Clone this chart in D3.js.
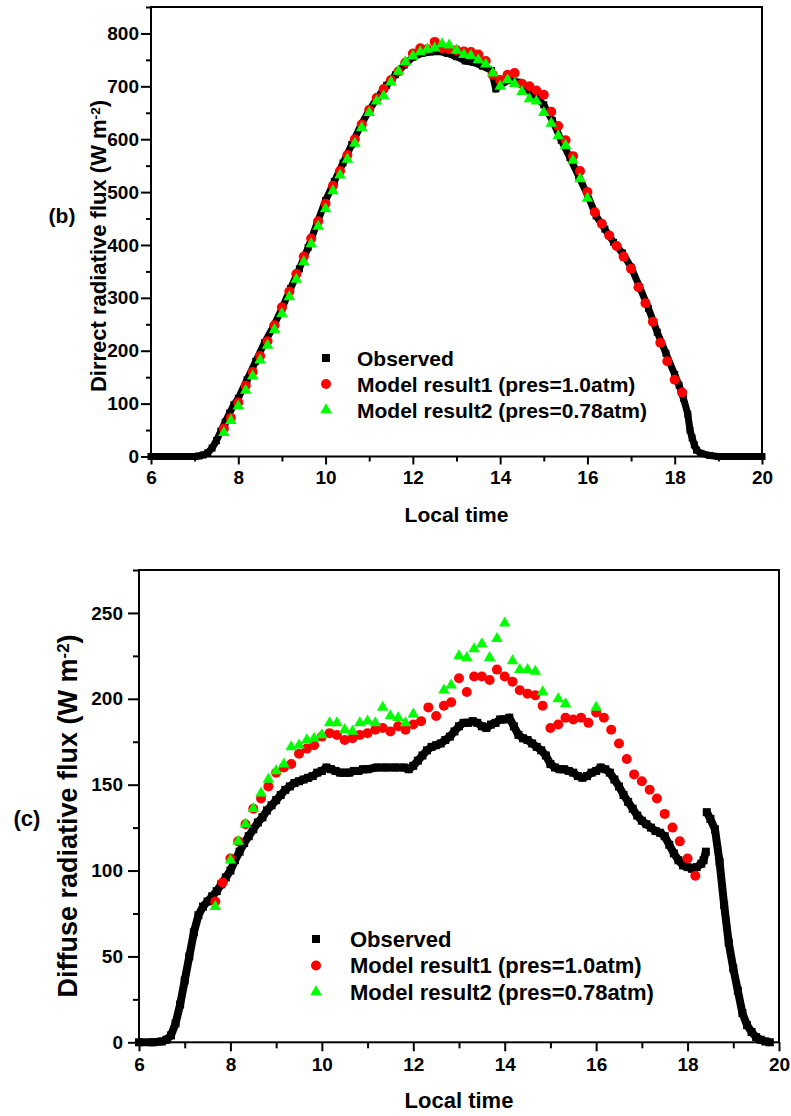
<!DOCTYPE html>
<html>
<head>
<meta charset="utf-8">
<script src="https://cdn.jsdelivr.net/npm/d3@7"></script>
<style>
  body { margin: 0; background: #fff; }
  svg { display: block; font-family: "Liberation Sans", Arial, sans-serif; font-weight: bold; }
</style>
</head>
<body>
<svg id="chart" width="791" height="1116"></svg>
<script>
// ---- panel (b): direct flux ----
const directObsTime = [6.0, 6.5, 7.0, 7.1, 7.2, 7.3, 7.4, 7.5, 7.6, 7.7, 7.8, 7.9, 8.0, 8.2, 8.4, 8.6, 8.8, 9.0, 9.2, 9.4, 9.6, 9.8, 10.0, 10.2, 10.4, 10.6, 10.8, 11.0, 11.2, 11.4, 11.6, 11.8, 12.0, 12.2, 12.4, 12.6, 12.8, 13.0, 13.2, 13.4, 13.6, 13.8, 13.9, 14.0, 14.2, 14.4, 14.6, 14.8, 15.0, 15.2, 15.4, 15.6, 15.8, 16.0, 16.2, 16.4, 16.6, 16.8, 17.0, 17.2, 17.4, 17.6, 17.8, 18.0, 18.1, 18.2, 18.3, 18.35, 18.4, 18.45, 18.5, 18.6, 18.8, 19.0, 19.5, 20.0];
const directObsFlux = [0, 0, 0, 1, 3, 7, 16, 30, 48, 65, 82, 98, 110, 145, 180, 215, 245, 280, 318, 355, 395, 440, 484, 520, 555, 590, 625, 655, 680, 702, 722, 740, 755, 762, 765, 766, 762, 756, 748, 745, 738, 730, 695, 702, 712, 708, 695, 682, 665, 635, 598, 565, 530, 495, 455, 430, 405, 385, 358, 320, 280, 235, 195, 155, 135, 110, 80, 50, 35, 22, 12, 6, 2, 0, 0, 0];

const directM1Time = [7.67, 7.83, 8.0, 8.17, 8.33, 8.5, 8.67, 8.83, 9.0, 9.17, 9.33, 9.5, 9.67, 9.83, 10.0, 10.17, 10.33, 10.5, 10.67, 10.83, 11.0, 11.17, 11.33, 11.5, 11.67, 11.83, 12.0, 12.17, 12.33, 12.5, 12.67, 12.83, 13.0, 13.17, 13.33, 13.5, 13.67, 13.83, 14.0, 14.17, 14.33, 14.5, 14.67, 14.83, 15.0, 15.17, 15.33, 15.5, 15.67, 15.83, 16.0, 16.17, 16.33, 16.5, 16.67, 16.83, 17.0, 17.17, 17.33, 17.5, 17.67, 17.83, 18.0, 18.17];
const directM1Flux = [53, 73, 102, 134, 160, 190, 218, 248, 282, 312, 345, 378, 412, 445, 478, 512, 540, 570, 600, 628, 655, 678, 695, 712, 728, 745, 762, 772, 770, 784, 772, 770, 768, 766, 765, 760, 748, 722, 712, 722, 725, 705, 700, 692, 684, 652, 625, 598, 568, 540, 500, 462, 440, 418, 398, 378, 355, 320, 290, 255, 215, 180, 145, 121];

const directM2Time = [7.67, 7.83, 8.0, 8.17, 8.33, 8.5, 8.67, 8.83, 9.0, 9.17, 9.33, 9.5, 9.67, 9.83, 10.0, 10.17, 10.33, 10.5, 10.67, 10.83, 11.0, 11.17, 11.33, 11.5, 11.67, 11.83, 12.0, 12.17, 12.33, 12.5, 12.67, 12.83, 13.0, 13.17, 13.33, 13.5, 13.67, 13.83, 14.0, 14.17, 14.33, 14.5, 14.67, 14.83, 15.0, 15.17, 15.33, 15.5, 15.67, 15.83, 16.0];
const directM2Flux = [45, 68, 95, 125, 152, 182, 210, 240, 270, 302, 335, 368, 402, 435, 468, 502, 532, 562, 592, 622, 650, 672, 682, 708, 728, 746, 757, 765, 770, 772, 780, 778, 768, 760, 758, 750, 742, 725, 700, 712, 705, 690, 676, 672, 650, 630, 606, 588, 560, 525, 488];

// ---- panel (c): diffuse flux ----
const diffuseObsTime = [6.0, 6.3, 6.5, 6.6, 6.7, 6.8, 6.9, 7.0, 7.1, 7.2, 7.3, 7.4, 7.5, 7.6, 7.7, 7.8, 7.9, 8.0, 8.1, 8.2, 8.3, 8.4, 8.5, 8.6, 8.7, 8.8, 8.9, 9.0, 9.1, 9.2, 9.3, 9.4, 9.5, 9.6, 9.7, 9.8, 9.9, 10.0, 10.1, 10.2, 10.3, 10.4, 10.5, 10.6, 10.7, 10.8, 10.9, 11.0, 11.2, 11.4, 11.6, 11.8, 11.9, 12.0, 12.1, 12.2, 12.3, 12.4, 12.5, 12.6, 12.7, 12.8, 12.9, 13.0, 13.1, 13.2, 13.3, 13.4, 13.5, 13.6, 13.7, 13.8, 13.9, 14.0, 14.1, 14.2, 14.3, 14.4, 14.5, 14.6, 14.7, 14.8, 14.9, 15.0, 15.1, 15.2, 15.3, 15.4, 15.5, 15.6, 15.7, 15.8, 15.9, 16.0, 16.1, 16.2, 16.3, 16.4, 16.5, 16.6, 16.7, 16.8, 16.9, 17.0, 17.1, 17.2, 17.3, 17.4, 17.5, 17.6, 17.7, 17.8, 17.9, 18.0, 18.1, 18.2, 18.3, 18.35, 18.4, 18.41, 18.42, 18.5, 18.6, 18.7, 18.8, 18.9, 19.0, 19.1, 19.2, 19.3, 19.4, 19.5, 19.6, 19.7, 19.8];
const diffuseObsFlux = [0, 0, 0.5, 1.5, 4, 11, 22, 36, 50, 64, 74, 79, 82, 85, 88, 92, 96, 100, 106, 111, 116, 120, 124, 128, 131, 135, 138, 141, 144, 147, 149, 151, 152, 153, 154, 155, 157, 158, 160, 159, 158, 157, 157, 157, 158, 158, 159, 159, 160, 160, 160, 160, 159, 161, 164, 167, 170, 172, 173, 174, 176, 178, 181, 184, 186, 186, 187, 186, 184, 183, 185, 186, 188, 188, 189, 184, 179, 177, 176, 174, 172, 170, 167, 162, 160, 159, 159, 158, 157, 155, 154, 155, 157, 158, 160, 159, 157, 153, 149, 144, 140, 136, 132, 129, 127, 125, 123, 122, 120, 115, 110, 106, 103, 102, 101, 102, 104, 106, 111, null, 134, 130, 124, 105, 80, 58, 43, 30, 17, 10, 6, 3, 1.5, 0.5, 0];

const diffuseM1Time = [7.67, 7.83, 8.0, 8.17, 8.33, 8.5, 8.67, 8.83, 9.0, 9.17, 9.33, 9.5, 9.67, 9.83, 10.0, 10.17, 10.33, 10.5, 10.67, 10.83, 11.0, 11.17, 11.33, 11.5, 11.67, 11.83, 12.0, 12.17, 12.33, 12.5, 12.67, 12.83, 13.0, 13.17, 13.33, 13.5, 13.67, 13.83, 14.0, 14.17, 14.33, 14.5, 14.67, 14.83, 15.0, 15.17, 15.33, 15.5, 15.67, 15.83, 16.0, 16.17, 16.33, 16.5, 16.67, 16.83, 17.0, 17.17, 17.33, 17.5, 17.67, 17.83, 18.0, 18.17];
const diffuseM1Flux = [82, 93, 107, 117, 127, 136, 142, 149, 157, 160, 162, 168, 171, 173, 178, 180, 179, 176, 177, 179, 180, 182, 183, 181, 184, 182, 185, 187, 195, 190, 196, 198, 212, 204, 213, 213, 211, 217, 213, 210, 205, 203, 202, 196, 183, 185, 189, 188, 189, 186, 192, 189, 182, 174, 165, 156, 152, 147, 142, 133, 125, 117, 107, 97];

const diffuseM2Time = [7.67, 8.0, 8.17, 8.33, 8.5, 8.67, 8.83, 9.0, 9.17, 9.33, 9.5, 9.67, 9.83, 10.0, 10.17, 10.33, 10.5, 10.67, 10.83, 11.0, 11.17, 11.33, 11.5, 11.67, 11.83, 12.0, 12.67, 12.83, 13.0, 13.17, 13.33, 13.5, 13.67, 13.83, 14.0, 14.17, 14.33, 14.5, 14.67, 14.83, 15.17, 15.33, 16.0];
const diffuseM2Flux = [79, 106, 117, 127, 136, 145, 153, 158, 162, 172, 173, 176, 177, 179, 186, 186, 182, 181, 186, 187, 186, 195, 190, 189, 186, 191, 205, 208, 225, 224, 229, 232, 224, 235, 244, 222, 217, 217, 216, 204, 200, 197, 195];

const seriesNames = ["Observed", "Model result1 (pres=1.0atm)", "Model result2 (pres=0.78atm)"];
const xTicks = [6, 8, 10, 12, 14, 16, 18, 20];

const red = "#ff0000";
const green = "#00ff00";

const svg = d3.select("#chart");

const zip = (ts, vs) => ts.map((t, i) => [t, vs[i]]);

function drawPanel(p) {
  const x = d3.scaleLinear().domain([6, 20]).range([p.left, p.right]);
  const y = d3.scaleLinear().domain([0, p.yMax]).range([p.bottom, p.top]);
  const g = svg.append("g");

  // minor ticks
  g.append("g")
    .attr("class", "axis")
    .attr("transform", `translate(0,${p.bottom})`)
    .call(d3.axisBottom(x).tickValues(d3.range(7, 20, 2)).tickSize(p.minorTick).tickFormat(""));
  g.append("g")
    .attr("class", "axis")
    .attr("transform", `translate(${p.left},0)`)
    .call(d3.axisLeft(y).tickValues(p.yMinor).tickSize(p.minorTick).tickFormat(""));

  // major ticks
  g.append("g")
    .attr("class", "axis")
    .attr("transform", `translate(0,${p.bottom})`)
    .call(d3.axisBottom(x).tickValues(xTicks).tickSize(p.xMajorTick).tickPadding(p.xPad))
    .call((a) => a.selectAll("text").style("font-size", `${p.tickFont}px`).attr("dy", "0.71em"));
  g.append("g")
    .attr("class", "axis")
    .attr("transform", `translate(${p.left},0)`)
    .call(d3.axisLeft(y).tickValues(p.yTicks).tickSize(p.yMajorTick).tickPadding(p.yPad))
    .call((a) => a.selectAll("text").style("font-size", `${p.tickFont}px`));

  g.selectAll(".axis .domain").remove();
  g.selectAll(".axis line").attr("stroke", "#000").attr("stroke-width", 2);
  g.selectAll(".axis text").attr("fill", "#000").style("font-family", "'Liberation Sans', Arial, sans-serif").style("font-weight", "bold");

  // frame
  g.append("rect")
    .attr("x", p.left)
    .attr("y", p.top)
    .attr("width", p.right - p.left)
    .attr("height", p.bottom - p.top)
    .attr("fill", "none")
    .attr("stroke", "#000")
    .attr("stroke-width", 2);

  // observed: thick trace + squares
  const obs = zip(p.obsTime, p.obsFlux);
  const line = d3
    .line()
    .defined((d) => d[1] != null)
    .x((d) => x(d[0]))
    .y((d) => y(d[1]));
  g.append("path")
    .attr("d", line(obs))
    .attr("fill", "none")
    .attr("stroke", "#000")
    .attr("stroke-width", p.obsSize)
    .attr("stroke-linejoin", "round");
  g.append("g")
    .selectAll("rect")
    .data(obs.filter((d) => d[1] != null))
    .join("rect")
    .attr("x", (d) => x(d[0]) - p.obsSize / 2)
    .attr("y", (d) => y(d[1]) - p.obsSize / 2)
    .attr("width", p.obsSize)
    .attr("height", p.obsSize)
    .attr("fill", "#000");

  g.append("g")
    .selectAll("circle")
    .data(zip(p.m1Time, p.m1Flux))
    .join("circle")
    .attr("cx", (d) => x(d[0]))
    .attr("cy", (d) => y(d[1]))
    .attr("r", 5)
    .attr("fill", red);

  const tri = d3.symbol().type(d3.symbolTriangle).size(58);
  g.append("g")
    .selectAll("path")
    .data(zip(p.m2Time, p.m2Flux))
    .join("path")
    .attr("d", tri)
    .attr("transform", (d) => `translate(${x(d[0])},${y(d[1])})`)
    .attr("fill", green);

  // legend
  const leg = g.append("g").attr("transform", `translate(${p.legX},${p.legY})`);
  const row = leg
    .selectAll("g")
    .data(seriesNames)
    .join("g")
    .attr("transform", (d, i) => `translate(0,${i * p.legStep})`);
  row.filter((d, i) => i === 0)
    .append("rect")
    .attr("x", -4).attr("y", -4).attr("width", 8).attr("height", 8)
    .attr("fill", "#000");
  row.filter((d, i) => i === 1)
    .append("circle").attr("r", 5).attr("fill", red);
  row.filter((d, i) => i === 2)
    .append("path")
    .attr("d", d3.symbol().type(d3.symbolTriangle).size(58))
    .attr("fill", green);
  row.append("text")
    .attr("x", p.legText)
    .attr("dy", "0.36em")
    .style("font-size", `${p.legFont}px`)
    .text((d) => d);

  // axis titles
  g.append("text")
    .attr("x", (p.left + p.right) / 2)
    .attr("y", p.xTitleY)
    .attr("text-anchor", "middle")
    .style("font-size", `${p.xTitleFont}px`)
    .text("Local time");

  const yt = g.append("text")
    .attr("transform", `translate(${p.yTitleX},${p.yTitleY}) rotate(-90)`)
    .attr("text-anchor", "middle")
    .style("font-size", `${p.yTitleFont}px`);
  yt.append("tspan").text(p.yTitle + " (W m");
  yt.append("tspan").attr("dy", "-0.45em").style("font-size", "0.62em").text("-2");
  yt.append("tspan").attr("dy", "0.28em").text(")");

  g.append("text")
    .attr("x", p.tagX)
    .attr("y", p.tagY)
    .attr("text-anchor", "middle")
    .attr("dy", "0.35em")
    .style("font-size", `${p.tagFont}px`)
    .text(p.tag);
}

drawPanel({
  left: 151, right: 762, top: 7, bottom: 456.5, yMax: 850,
  yTicks: d3.range(0, 801, 100), yMinor: d3.range(50, 851, 100),
  minorTick: 5, xMajorTick: 8, yMajorTick: 10, xPad: 6, yPad: 2, tickFont: 19,
  obsTime: directObsTime, obsFlux: directObsFlux,
  m1Time: directM1Time, m1Flux: directM1Flux,
  m2Time: directM2Time, m2Flux: directM2Flux,
  obsSize: 7,
  legX: 326, legY: 358, legStep: 26, legText: 31, legFont: 21,
  xTitleY: 522, xTitleFont: 21,
  yTitle: "Dirrect radiative flux", yTitleX: 106, yTitleY: 246, yTitleFont: 22,
  tag: "(b)", tagX: 62, tagY: 216, tagFont: 21,
});

drawPanel({
  left: 139, right: 779, top: 570, bottom: 1042.3, yMax: 275,
  yTicks: d3.range(0, 251, 50), yMinor: d3.range(25, 276, 50),
  minorTick: 6, xMajorTick: 9, yMajorTick: 11, xPad: 6, yPad: 5, tickFont: 19,
  obsTime: diffuseObsTime, obsFlux: diffuseObsFlux,
  m1Time: diffuseM1Time, m1Flux: diffuseM1Flux,
  m2Time: diffuseM2Time, m2Flux: diffuseM2Flux,
  obsSize: 8,
  legX: 316, legY: 939, legStep: 26.5, legText: 34, legFont: 22,
  xTitleY: 1108, xTitleFont: 22,
  yTitle: "Diffuse radiative flux", yTitleX: 77, yTitleY: 816, yTitleFont: 27,
  tag: "(c)", tagX: 27, tagY: 818, tagFont: 22,
});
</script>
</body>
</html>
